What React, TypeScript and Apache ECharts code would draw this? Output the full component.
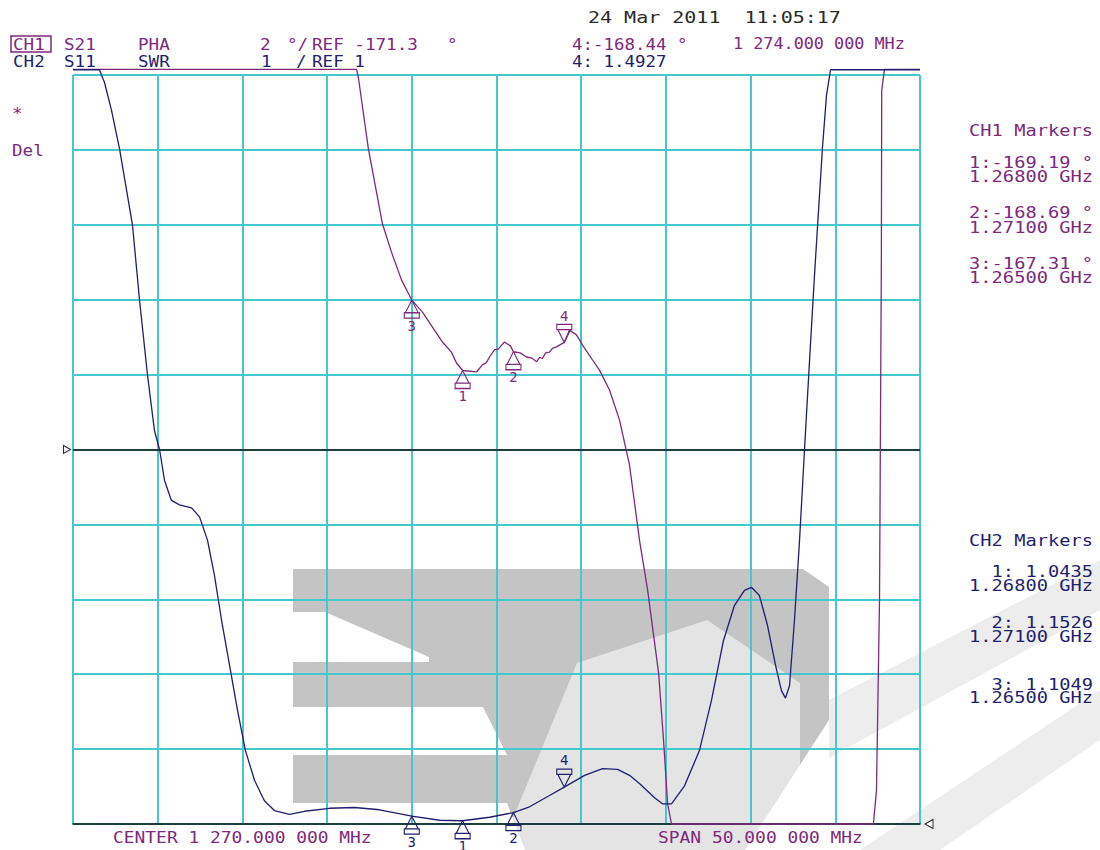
import React, { useEffect, useRef } from "react";
import * as echarts from "echarts";

const CENTER_MHZ = 1270;
const SPAN_MHZ = 50;
const DIVS = 10;
const CH1_REF = -171.3;
const CH1_SCALE = 2;
const CH2_REF = 1;
const CH2_SCALE = 1;

const ch1Trace: [number, number][] = [
  [1245.0, -161.15], [1261.74, -161.15], [1261.85, -161.38], [1262.44, -163.28], [1263.27, -165.28],
  [1263.8, -166.03], [1264.39, -166.77], [1265.0, -167.31], [1265.63, -167.63], [1266.22, -168.03],
  [1266.81, -168.43], [1267.34, -168.7], [1267.64, -168.99], [1268.0, -169.19], [1268.82, -169.23],
  [1269.17, -169.04], [1269.4, -168.98], [1269.59, -168.83], [1269.88, -168.64], [1270.1, -168.62],
  [1270.47, -168.43], [1270.83, -168.54], [1271.0, -168.69], [1271.4, -168.72], [1271.77, -168.83],
  [1272.1, -168.86], [1272.36, -168.96], [1272.55, -168.84], [1272.71, -168.87], [1272.9, -168.72],
  [1273.13, -168.7], [1273.3, -168.6], [1273.54, -168.56], [1274.0, -168.44], [1274.31, -168.11],
  [1274.72, -168.24], [1275.08, -168.51], [1275.67, -168.91], [1276.08, -169.18], [1276.67, -169.71],
  [1277.26, -170.51], [1277.85, -171.71], [1278.44, -173.72], [1278.92, -175.05], [1279.57, -177.27],
  [1279.86, -179.06], [1280.1, -180.75], [1280.33, -181.3], [1292.25, -181.3], [1292.43, -180.41],
  [1292.61, -175.32], [1292.72, -166.11], [1292.74, -161.71], [1292.9, -161.15], [1295.0, -161.15],
];

const ch2Trace: [number, number][] = [
  [1245.0, 11.07], [1246.56, 11.07], [1246.86, 10.9], [1247.27, 10.53], [1247.75, 10.01],
  [1248.51, 9.0], [1248.93, 7.99], [1249.4, 6.99], [1249.81, 6.25], [1250.11, 6.0],
  [1250.4, 5.59], [1250.81, 5.32], [1251.29, 5.26], [1252.0, 5.22], [1252.47, 5.1],
  [1252.94, 4.79], [1253.35, 4.32], [1253.77, 3.72], [1254.24, 3.12], [1254.71, 2.52],
  [1255.18, 1.98], [1255.72, 1.58], [1256.3, 1.31], [1256.89, 1.18], [1257.78, 1.13],
  [1258.67, 1.17], [1260.14, 1.21], [1261.62, 1.22], [1263.09, 1.19], [1265.0, 1.1049],
  [1266.64, 1.05], [1268.0, 1.0435], [1269.59, 1.09], [1271.0, 1.1526], [1271.95, 1.23],
  [1273.13, 1.38], [1274.0, 1.4927], [1275.2, 1.65], [1276.26, 1.74], [1277.15, 1.73],
  [1277.85, 1.65], [1278.44, 1.54], [1279.33, 1.35], [1279.8, 1.27], [1280.33, 1.27],
  [1281.1, 1.51], [1281.98, 1.98], [1282.69, 2.65], [1283.4, 3.45], [1284.05, 3.92],
  [1284.64, 4.12], [1285.05, 4.16], [1285.52, 4.05], [1286.0, 3.65], [1286.47, 3.12],
  [1286.82, 2.78], [1287.06, 2.68], [1287.3, 2.85], [1287.59, 3.72], [1287.89, 4.79],
  [1288.18, 5.99], [1288.48, 7.19], [1288.77, 8.32], [1289.01, 9.19], [1289.24, 10.02],
  [1289.48, 10.73], [1289.72, 11.07], [1295.0, 11.07],
];

const markerIds = [1, 2, 3];
const markerFreqMHz = [1268, 1271, 1265];
const ch1MarkerVals = [-169.19, -168.69, -167.31];
const ch2MarkerVals = [1.0435, 1.1526, 1.1049];
const activeId = 4;
const activeFreqMHz = 1274;
const activeCh1 = -168.44;
const activeCh2 = 1.4927;

const PURPLE = "#7d2a7d";
const NAVY = "#1f1f6e";
const CYAN = "#45c8cc";
const FONT = '"DejaVu Sans Mono", "Liberation Mono", monospace';

const UP = "path://M7,0 L13,12 L1,12 Z M0,12 L14,12 L14,17 L0,17 Z";
const DOWN = "path://M0,0 L14,0 L14,5 L0,5 Z M1,5 L13,5 L7,17 Z";

// decorative grey watermark (translucent, as an embedded SVG picture)
const WATERMARK_SVG =
  "<svg xmlns='http://www.w3.org/2000/svg' width='1100' height='850' viewBox='0 0 1100 850'>" +
  "<polygon points='293,569 803,569 829,587 829,720 745,850 525,850 507,803 293,803 293,755 507,755 483,707 293,707 293,662 429,662 429,657 325,612 293,612' fill='rgb(115,115,115)' fill-opacity='0.42'/>" +
  "<polygon points='500,850 577,663 707,620 800,683 800,790 770,850' fill='rgb(255,255,255)' fill-opacity='0.55'/>" +
  "<polygon points='829,700 1100,560 1100,610 829,758' fill='rgb(115,115,115)' fill-opacity='0.13'/>" +
  "<polygon points='860,850 1100,690 1100,740 940,850' fill='rgb(115,115,115)' fill-opacity='0.13'/>" +
  "</svg>";

function txt(text: string, x: number, y: number, fill: string, align = "left", sx = 1.1, size = 16) {
  return {
    type: "text",
    x,
    y,
    scaleX: sx,
    z: 50,
    silent: true,
    style: { text, x: 0, y: 0, fill, font: `${size}px ${FONT}`, textAlign: align, textVerticalAlign: "middle" },
  };
}

function markerPoints(vals: number[], activeVal: number, color: string, extra: any[]) {
  const base: any[] = markerIds.map((id, i) => ({
    name: String(id),
    coord: [markerFreqMHz[i], vals[i]],
    symbol: UP,
    symbolSize: [15, 18],
    symbolOffset: [0, 9],
    label: { position: "bottom", distance: 0 },
  }));
  base.push({
    name: String(activeId),
    coord: [activeFreqMHz, activeVal],
    symbol: DOWN,
    symbolSize: [15, 18],
    symbolOffset: [0, -9],
    label: { position: "top", distance: 1 },
  });
  return {
    silent: true,
    animation: false,
    itemStyle: { color: "rgba(255,255,255,0)", borderColor: color, borderWidth: 1.2 },
    label: { show: true, formatter: "{b}", color, fontFamily: FONT, fontSize: 14 },
    data: [...base, ...extra],
  };
}

export default function App() {
  const ref = useRef<HTMLDivElement>(null);
  useEffect(() => {
    if (!ref.current) return;
    const chart = echarts.init(ref.current, undefined, { renderer: "svg" });
    const fMin = CENTER_MHZ - SPAN_MHZ / 2;
    const fMax = CENTER_MHZ + SPAN_MHZ / 2;

    const ch1Readout: string[] = [];
    const ch2Readout: string[] = [];
    markerIds.forEach((id, i) => {
      ch1Readout.push(`${id}:${ch1MarkerVals[i].toFixed(2)} °`, `${(markerFreqMHz[i] / 1000).toFixed(5)} GHz`);
      ch2Readout.push(`${id}: ${ch2MarkerVals[i].toFixed(4)}`, `${(markerFreqMHz[i] / 1000).toFixed(5)} GHz`);
    });
    const ch1Ys = [162, 176, 212, 227, 263, 277];
    const ch2Ys = [571, 585, 622, 636, 684, 697];

    const graphic: any[] = [
      {
        type: "image",
        z: -10,
        silent: true,
        style: {
          image: "data:image/svg+xml;charset=utf-8," + encodeURIComponent(WATERMARK_SVG),
          x: 0,
          y: 0,
          width: 1100,
          height: 850,
        },
      },
      txt("24 Mar 2011  11:05:17", 588, 17, "#2a2a2a", "left", 1.25),
      { type: "rect", z: 50, silent: true, shape: { x: 11, y: 36, width: 40, height: 16 }, style: { fill: "none", stroke: PURPLE, lineWidth: 1.5 } },
      txt("CH1", 13, 44, PURPLE),
      txt("S21", 64, 44, PURPLE),
      txt("PHA", 138, 44, PURPLE),
      txt(String(CH1_SCALE), 260, 44, PURPLE),
      txt("°/", 287, 44, PURPLE),
      txt(`REF ${CH1_REF.toFixed(1)}`, 312, 44, PURPLE),
      txt("°", 447, 44, PURPLE),
      txt(`${activeId}:${activeCh1.toFixed(2)} °`, 572, 44, PURPLE, "left", 1.09),
      txt("1 274.000 000 MHz", 733, 44, PURPLE, "left", 1.05),
      txt("CH2", 13, 61, NAVY),
      txt("S11", 64, 61, NAVY),
      txt("SWR", 138, 61, NAVY),
      txt(String(CH2_SCALE), 261, 61, NAVY),
      txt("/", 296, 61, NAVY),
      txt(`REF ${CH2_REF}`, 312, 61, NAVY),
      txt(`${activeId}: ${activeCh2.toFixed(4)}`, 572, 61, NAVY, "left", 1.09),
      txt("*", 12, 113, PURPLE),
      txt("Del", 12, 150, PURPLE),
      txt("CENTER 1 270.000 000 MHz", 113, 837, PURPLE, "left", 1.12),
      txt("SPAN", 658, 837, PURPLE, "left", 1.12),
      txt("50.000 000 MHz", 712, 837, PURPLE, "left", 1.12),
      txt("CH1 Markers", 1093, 130, PURPLE, "right", 1.17),
      ...ch1Readout.map((s, i) => txt(s, 1093, ch1Ys[i], PURPLE, "right", 1.17)),
      txt("CH2 Markers", 1093, 540, NAVY, "right", 1.17),
      ...ch2Readout.map((s, i) => txt(s, 1093, ch2Ys[i], NAVY, "right", 1.17)),
    ];

    chart.setOption({
      animation: false,
      backgroundColor: "#ffffff",
      grid: { left: 73, top: 75, right: 180, bottom: 26, containLabel: false },
      xAxis: {
        type: "value",
        min: fMin,
        max: fMax,
        interval: SPAN_MHZ / DIVS,
        axisLabel: { show: false },
        axisTick: { show: false },
        axisLine: { show: true, lineStyle: { color: "#111", width: 1.5 } },
        splitLine: { show: true, lineStyle: { color: CYAN, width: 2 } },
      },
      yAxis: [
        {
          type: "value",
          min: 0,
          max: DIVS,
          interval: 1,
          axisLabel: { show: false },
          axisTick: { show: false },
          axisLine: { show: false },
          splitLine: { show: true, lineStyle: { color: CYAN, width: 2 } },
        },
        { type: "value", show: false, min: CH1_REF - (DIVS / 2) * CH1_SCALE, max: CH1_REF + (DIVS / 2) * CH1_SCALE, splitLine: { show: false } },
        { type: "value", show: false, min: CH2_REF, max: CH2_REF + DIVS * CH2_SCALE, splitLine: { show: false } },
      ],
      graphic,
      series: [
        {
          type: "line",
          name: "CH1",
          yAxisIndex: 1,
          data: ch1Trace,
          symbol: "none",
          showSymbol: false,
          clip: false,
          z: 5,
          lineStyle: { color: PURPLE, width: 1.3 },
          itemStyle: { color: PURPLE },
          markLine: {
            silent: true,
            animation: false,
            symbol: ["none", "none"],
            label: { show: false },
            lineStyle: { color: "#111", width: 1.5, type: "solid" },
            data: [{ yAxis: CH1_REF }],
          },
          markPoint: markerPoints(ch1MarkerVals, activeCh1, PURPLE, [
            {
              name: "",
              coord: [fMin, CH1_REF],
              symbol: "path://M0,0 L10,5 L0,10 Z",
              symbolSize: [7, 8],
              symbolOffset: [-6, 0],
              itemStyle: { color: "#fff", borderColor: "#222", borderWidth: 1 },
              label: { show: false },
            },
          ]),
        },
        {
          type: "line",
          name: "CH2",
          yAxisIndex: 2,
          data: ch2Trace,
          symbol: "none",
          showSymbol: false,
          clip: false,
          z: 6,
          lineStyle: { color: NAVY, width: 1.3 },
          itemStyle: { color: NAVY },
          markPoint: markerPoints(ch2MarkerVals, activeCh2, NAVY, [
            {
              name: "",
              coord: [fMax, CH2_REF],
              symbol: "path://M10,0 L0,5 L10,10 Z",
              symbolSize: [8, 9],
              symbolOffset: [9, 0],
              itemStyle: { color: "#fff", borderColor: "#222", borderWidth: 1 },
              label: { show: false },
            },
          ]),
        },
      ],
    });
    return () => chart.dispose();
  }, []);
  return <div ref={ref} style={{ position: "absolute", left: 0, top: 0, width: 1100, height: 850 }} />;
}
